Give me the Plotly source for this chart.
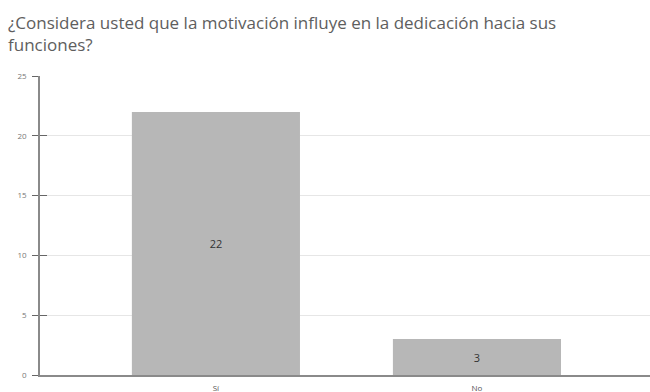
import plotly.graph_objects as go

# Survey answers and counts
categories = ["Sí", "No"]
counts = [22, 3]
y_ticks = [0, 5, 10, 15, 20, 25]

title_text = "¿Considera usted que la motivación influye en la dedicación hacia sus<br>funciones?"

fig = go.Figure()
fig.add_trace(go.Bar(
    x=categories,
    y=counts,
    width=0.644,
    marker=dict(color="#b7b7b7", line=dict(width=0)),
    text=[str(v) for v in counts],
    textposition="inside",
    insidetextanchor="middle",
    textfont=dict(family="Open Sans, Arial", size=11, color="#333333"),
    textangle=0,
    hoverinfo="skip",
))
# invisible trace on a twin axis to draw the inner half of the y tick marks
fig.add_trace(go.Scatter(x=categories, y=counts, yaxis="y2", mode="markers",
                         marker=dict(opacity=0), hoverinfo="skip", showlegend=False))

fig.add_annotation(
    text=title_text, xref="paper", yref="paper",
    x=-0.055, y=1.0 + 43 / 299, xanchor="left", yanchor="middle",
    align="left", showarrow=False,
    font=dict(family="Open Sans, Arial", size=17, color="#5e5e5e"),
)

fig.update_layout(
    width=650, height=392,
    margin=dict(l=40, r=0, t=76, b=17),
    paper_bgcolor="white", plot_bgcolor="white",
    showlegend=False,
    font=dict(family="Open Sans, Arial", color="#666666"),
    xaxis=dict(
        range=[-0.674, 1.663],
        showgrid=False, zeroline=False,
        showline=True, linecolor="#8a8a8a", linewidth=2,
        ticks="", tickfont=dict(size=8, color="#555555"),
        ticklabelstandoff=4,
        fixedrange=True,
    ),
    yaxis=dict(
        range=[0, 25], tickvals=y_ticks,
        showgrid=True, gridcolor="#e6e6e6", gridwidth=1,
        zeroline=False,
        showline=True, linecolor="#8a8a8a", linewidth=1.5,
        ticks="outside", ticklen=6, tickcolor="#666666", tickwidth=1,
        tickfont=dict(size=8, color="#777777"),
        ticklabelstandoff=4,
    ),
    yaxis2=dict(
        range=[0, 25], tickvals=y_ticks, overlaying="y", side="left",
        showgrid=False, zeroline=False, showline=False,
        ticks="inside", ticklen=7, tickcolor="#666666", tickwidth=1,
        showticklabels=False,
    ),
)

fig.write_html("out.html")
